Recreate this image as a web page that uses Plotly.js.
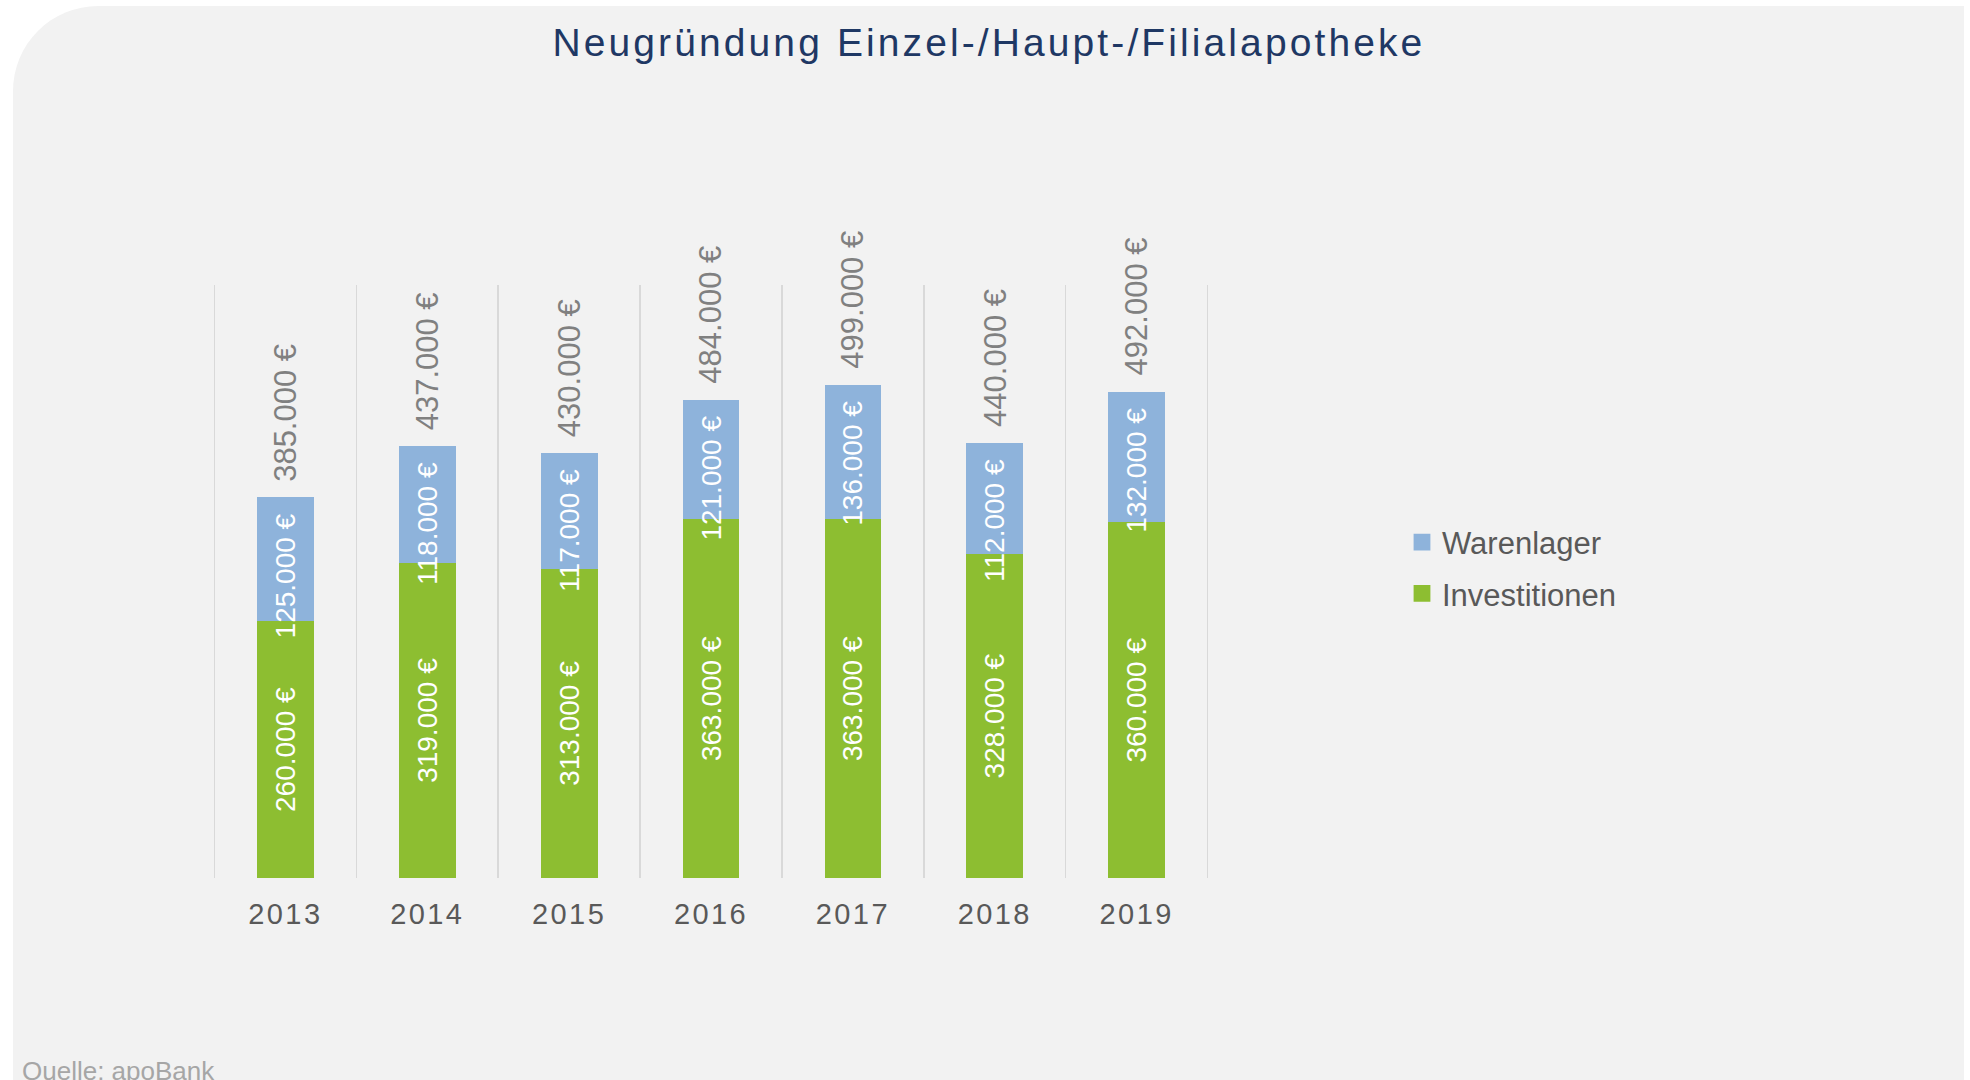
<!DOCTYPE html>
<html><head><meta charset="utf-8">
<script src="https://cdn.plot.ly/plotly-3.0.1.min.js"></script>
<style>
html,body{margin:0;padding:0;background:#ffffff;width:1970px;height:1080px;overflow:hidden}
#panel{position:absolute;left:13px;top:6px;width:1951px;height:1120px;background:#f2f2f2;border-top-left-radius:85px}
#chart{position:absolute;left:0;top:0;width:1970px;height:1080px}
.gtitle{letter-spacing:3.1px}
.xtick text{letter-spacing:2.4px}
</style></head><body>
<div id="panel"></div><div id="chart"></div>
<script>
// ---- data ----
const years = ['2013','2014','2015','2016','2017','2018','2019'];
const investitionen = [260000,319000,313000,363000,363000,328000,360000];
const warenlager = [125000,118000,117000,121000,136000,112000,132000];
const totals = [385000,437000,430000,484000,499000,440000,492000];
const seriesNames = ['Investitionen','Warenlager'];
const titleText = 'Neugründung Einzel-/Haupt-/Filialapotheke';
const sourceText = 'Quelle: apoBank';

// ---- styles ----
const FONT = '"Liberation Sans", Arial, Helvetica, sans-serif';
const GREEN = '#8DBE31';
const BLUE = '#8EB3DB';
const fmt = v => String(v).replace(/\B(?=(\d{3})+(?!\d))/g, '.') + ' €';

// plot-area pixel geometry (range padded a hair so the outer boundary grid lines show)
const W = 1970, H = 1080;
const EPS = 0.01;
const L = 213, R = 761, T = 285, B = 202;
const pw = W - L - R, ph = H - T - B;
const px2x = p => (p - L) / pw;
const px2y = p => (H - B - p) / ph;

const traces = [
  {
    type: 'bar', name: seriesNames[0], x: years, y: investitionen,
    marker: {color: GREEN},
    text: investitionen.map(fmt),
    textposition: 'inside', insidetextanchor: 'middle', textangle: -90,
    constraintext: 'none',
    textfont: {family: FONT, size: 28, color: '#ffffff'},
    insidetextfont: {family: FONT, size: 28, color: '#ffffff'},
    legendgroup: 'inv', legendrank: 2, hoverinfo: 'skip'
  },
  {
    type: 'bar', name: seriesNames[1], x: years, y: warenlager,
    marker: {color: BLUE},
    text: warenlager.map(v => fmt(v) + '\u00a0\u2009'),
    textposition: 'inside', insidetextanchor: 'end', textangle: -90,
    constraintext: 'none',
    textfont: {family: FONT, size: 28, color: '#ffffff'},
    insidetextfont: {family: FONT, size: 28, color: '#ffffff'},
    legendgroup: 'war', legendrank: 1, hoverinfo: 'skip'
  }
];

// total labels above each stack (x given as category index)
const annotations = years.map((yr, i) => ({
  x: i, y: totals[i], xref: 'x', yref: 'y',
  text: fmt(totals[i]), textangle: -90, showarrow: false,
  xanchor: 'center', yanchor: 'bottom', yshift: 14,
  font: {family: FONT, size: 31, color: '#808080'}
}));
annotations.push({
  xref: 'paper', yref: 'paper', x: px2x(19.7), y: px2y(1054),
  xanchor: 'left', yanchor: 'top', showarrow: false,
  text: sourceText, font: {family: FONT, size: 26, color: '#a6a6a6'}
});

const layout = {
  width: W, height: H,
  paper_bgcolor: 'rgba(0,0,0,0)', plot_bgcolor: 'rgba(0,0,0,0)',
  margin: {l: L, r: R, t: T, b: B, pad: 0},
  barmode: 'stack', bargap: 0.6,
  title: {
    text: titleText,
    font: {family: FONT, size: 39, color: '#1F3864'},
    xref: 'container', x: 0.502, xanchor: 'center',
    yref: 'container', y: 1 - 42 / H, yanchor: 'middle'
  },
  xaxis: {
    type: 'category', categoryorder: 'array', categoryarray: years,
    range: [-0.5 - EPS, years.length - 0.5 + EPS], autorange: false,
    tickson: 'boundaries', showgrid: true,
    gridcolor: '#d9d9d9', gridwidth: 1.5, ticks: '', showline: false,
    zeroline: false, fixedrange: true, tickangle: 0, ticklabelstandoff: 16,
    tickfont: {family: FONT, size: 29, color: '#595959'}
  },
  yaxis: {range: [0, 600000], autorange: false, visible: false, showgrid: false, zeroline: false, fixedrange: true},
  showlegend: true,
  legend: {
    x: px2x(1402), xanchor: 'left', y: px2y(568), yanchor: 'middle',
    bgcolor: 'rgba(0,0,0,0)', borderwidth: 0,
    traceorder: 'grouped', tracegroupgap: 8,
    font: {family: FONT, size: 31, color: '#595959'}
  },
  annotations: annotations,
  hovermode: false
};

Plotly.newPlot('chart', traces, layout, {displayModeBar: false, staticPlot: true}).then(gd => {
  // enlarge the legend colour squares (12px -> ~17px) around their own centre
  gd.querySelectorAll('.legendpoints path').forEach(p => {
    const t = p.getAttribute('transform') || '';
    p.setAttribute('transform', t + ' scale(1.4)');
  });
});
</script>
</body></html>
